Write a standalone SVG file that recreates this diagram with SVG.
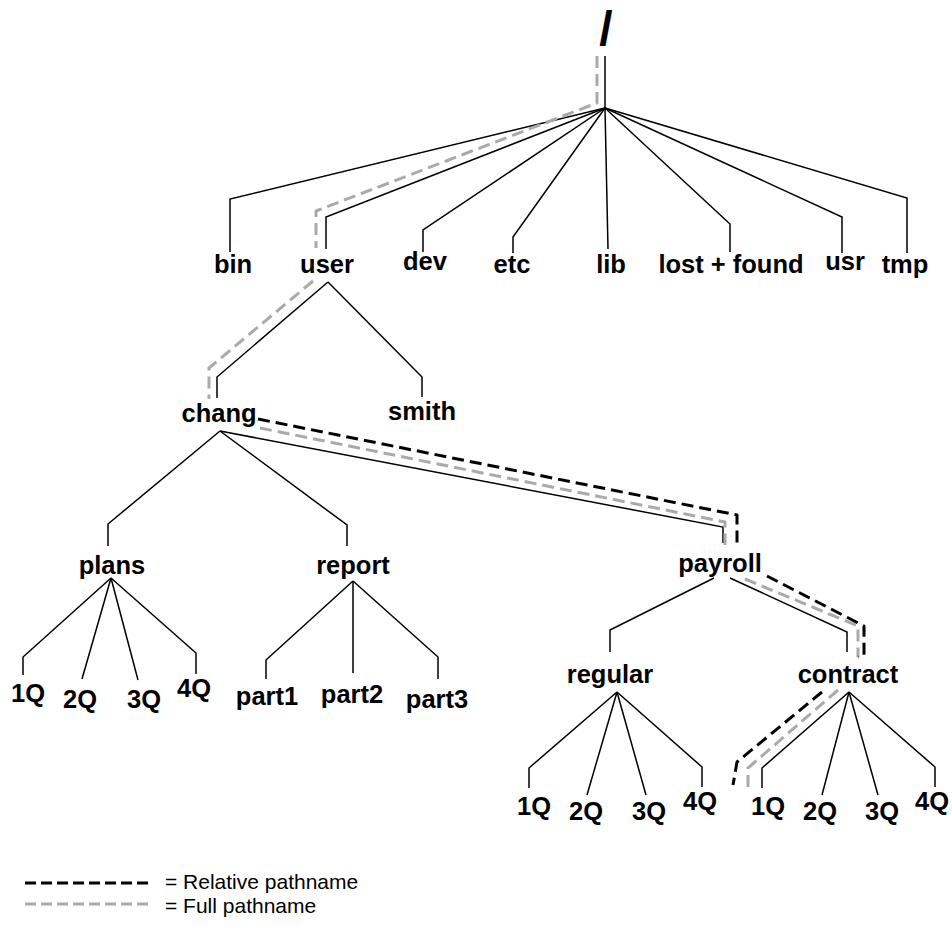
<svg xmlns="http://www.w3.org/2000/svg" width="952" height="927" viewBox="0 0 952 927">
<style>
.lbl{font-family:"Liberation Sans",Arial,sans-serif;font-weight:bold;font-size:25.5px;fill:#000;text-anchor:middle}
.leg{font-family:"Liberation Sans",Arial,sans-serif;font-size:21px;fill:#000}
.t{fill:none;stroke:#000;stroke-width:1.5;stroke-linejoin:miter}
.rel{fill:none;stroke:#000;stroke-width:3;stroke-dasharray:12 6;stroke-linejoin:round}
.full{fill:none;stroke:#aaa;stroke-width:3;stroke-dasharray:12 6;stroke-linejoin:round}
</style>
<rect width="952" height="927" fill="#fff"/>
<g id="connectors">
<path class="t" d="M605,56 V108"/>
<path class="t" d="M605,108 L230,199 V252"/>
<path class="t" d="M605,108 L326,217 V249"/>
<path class="t" d="M605,108 L423,230 V252"/>
<path class="t" d="M605,108 L513,237 V253"/>
<path class="t" d="M605,108 L608,249"/>
<path class="t" d="M605,108 L730,224 V252"/>
<path class="t" d="M605,108 L842,217 V253"/>
<path class="t" d="M605,108 L907,198 V253"/>
<path class="t" d="M328,282 L217,377 V398"/>
<path class="t" d="M328,282 L422,377 V397"/>
<path class="t" d="M220,431 L108,524 V546"/>
<path class="t" d="M220,431 L347,525 V546"/>
<path class="t" d="M220,431 L723,527 V543"/>
<path class="t" d="M111,578 L23,657 V675"/>
<path class="t" d="M111,578 L82,679"/>
<path class="t" d="M111,578 L138,680"/>
<path class="t" d="M111,578 L196,653 V674"/>
<path class="t" d="M353,581 L266,660 V679"/>
<path class="t" d="M353,581 V673"/>
<path class="t" d="M353,581 L438,657 V679"/>
<path class="t" d="M714,578 L610,630 V652"/>
<path class="t" d="M730,578 L847,632 V652"/>
<path class="t" d="M617,692 L529,768 V788"/>
<path class="t" d="M617,692 L587,795"/>
<path class="t" d="M617,692 L646,795"/>
<path class="t" d="M617,692 L702,767 V787"/>
<path class="t" d="M849,692 L762,768 V788"/>
<path class="t" d="M849,692 L822,795"/>
<path class="t" d="M849,692 L878,795"/>
<path class="t" d="M849,692 L935,767 V787"/>
<path class="full" d="M597,56 V103 L316,211 V248"/>
<path class="full" d="M313,281 L209,368 V399"/>
<path class="full" d="M260,428 L725,522 V545"/>
<path class="full" d="M745,579 L858,626 V657"/>
<path class="full" d="M838,690 L748,768 V792"/>
<path class="rel" d="M258,419 L737,515 V545"/>
<path class="rel" d="M767,576 L864,626 V655 L858,657"/>
<path class="rel" d="M822,692 L737,762 L733,785"/>
</g>
<g id="root"><text class="lbl" x="606" y="45" style="font-size:48px">/</text></g>
<g id="bin"><text class="lbl" x="233" y="273">bin</text></g>
<g id="user"><text class="lbl" x="327" y="273">user</text></g>
<g id="dev"><text class="lbl" x="425" y="270">dev</text></g>
<g id="etc"><text class="lbl" x="512" y="273">etc</text></g>
<g id="lib"><text class="lbl" x="611" y="273">lib</text></g>
<g id="lostfound"><text class="lbl" x="731" y="273">lost + found</text></g>
<g id="usr"><text class="lbl" x="845" y="270">usr</text></g>
<g id="tmp"><text class="lbl" x="905" y="273">tmp</text></g>
<g id="chang"><text class="lbl" x="219" y="422">chang</text></g>
<g id="smith"><text class="lbl" x="422" y="420">smith</text></g>
<g id="plans"><text class="lbl" x="112" y="574">plans</text></g>
<g id="report"><text class="lbl" x="353" y="574">report</text></g>
<g id="payroll"><text class="lbl" x="720" y="572">payroll</text></g>
<g id="regular"><text class="lbl" x="610" y="683">regular</text></g>
<g id="contract"><text class="lbl" x="848" y="683">contract</text></g>
<g id="plans-1Q"><text class="lbl" x="28" y="702">1Q</text></g>
<g id="plans-2Q"><text class="lbl" x="80" y="708">2Q</text></g>
<g id="plans-3Q"><text class="lbl" x="144" y="708">3Q</text></g>
<g id="plans-4Q"><text class="lbl" x="194" y="697">4Q</text></g>
<g id="part1"><text class="lbl" x="267" y="705">part1</text></g>
<g id="part2"><text class="lbl" x="352" y="703">part2</text></g>
<g id="part3"><text class="lbl" x="437" y="708">part3</text></g>
<g id="regular-1Q"><text class="lbl" x="534" y="815">1Q</text></g>
<g id="regular-2Q"><text class="lbl" x="586" y="820">2Q</text></g>
<g id="regular-3Q"><text class="lbl" x="649" y="820">3Q</text></g>
<g id="regular-4Q"><text class="lbl" x="700" y="810">4Q</text></g>
<g id="contract-1Q"><text class="lbl" x="768" y="815">1Q</text></g>
<g id="contract-2Q"><text class="lbl" x="820" y="820">2Q</text></g>
<g id="contract-3Q"><text class="lbl" x="882" y="820">3Q</text></g>
<g id="contract-4Q"><text class="lbl" x="932" y="810">4Q</text></g>
<g id="legend">
<path d="M25,883 H148" fill="none" stroke="#000" stroke-width="3" stroke-dasharray="11 5"/>
<path d="M25,904 H148" fill="none" stroke="#aaa" stroke-width="3" stroke-dasharray="11 5"/>
<text class="leg" x="165" y="889">= Relative pathname</text>
<text class="leg" x="165" y="913">= Full pathname</text>
</g>
</svg>
